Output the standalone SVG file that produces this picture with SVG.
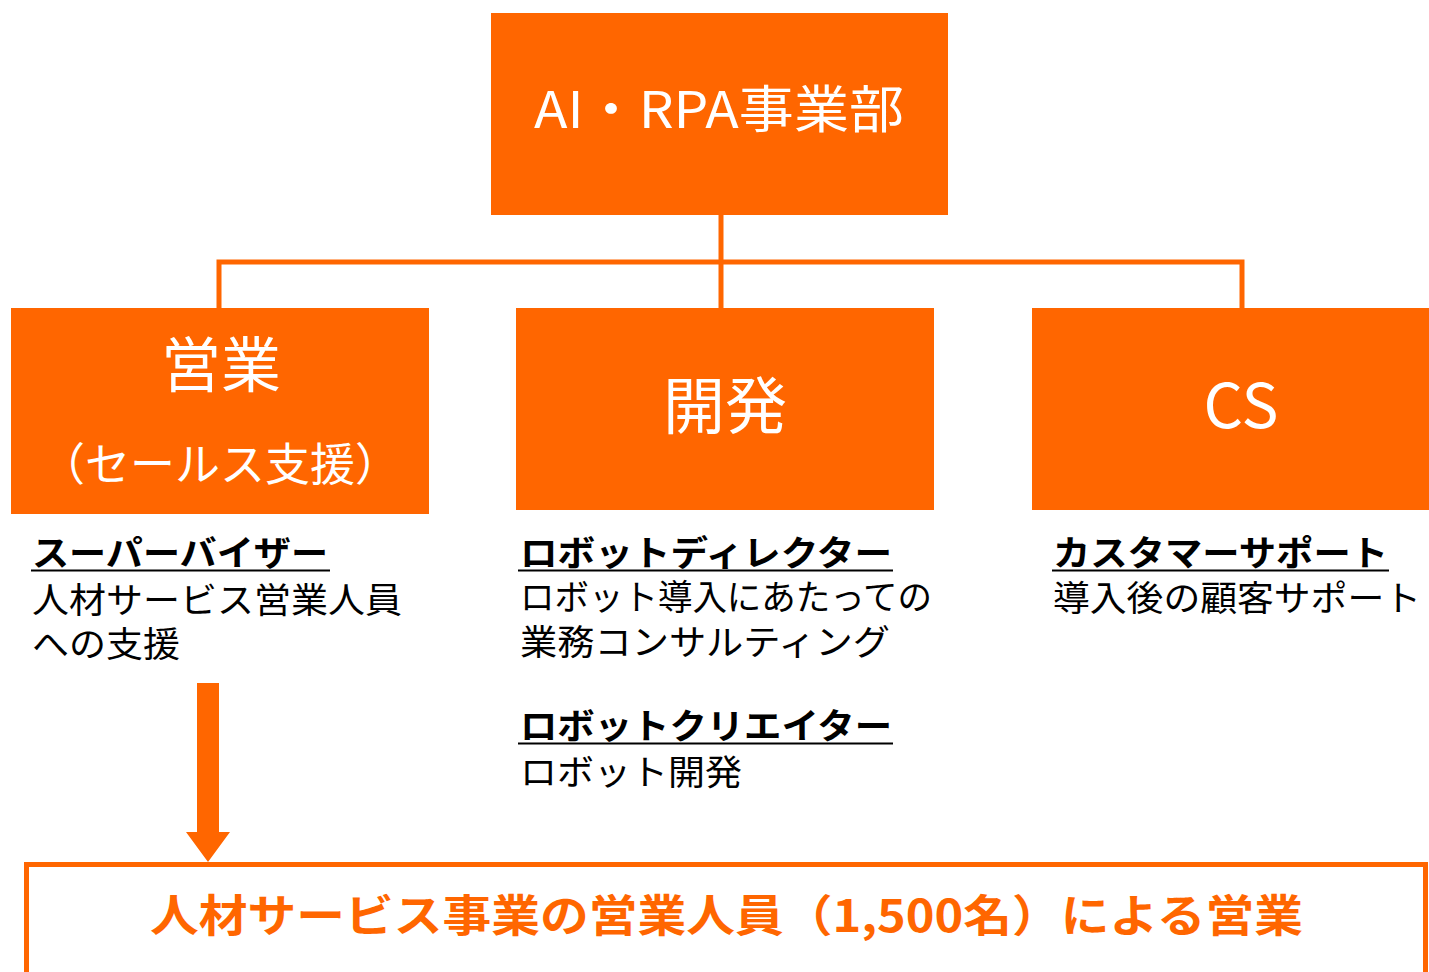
<svg xmlns="http://www.w3.org/2000/svg" width="1429" height="972" viewBox="0 0 1429 972">
<style>
.box{fill:#FF6600}
.w{fill:#fff;font-family:"Noto Sans CJK JP","Noto Sans",sans-serif}
.t{fill:#000;font-family:"Noto Sans CJK JP","Noto Sans",sans-serif;font-size:35px}
.b{font-weight:bold}
.ul{stroke:#000;stroke-width:2}
.con{stroke:#FF6600;stroke-width:5;fill:none}
</style>
<rect width="1429" height="972" fill="#fff"/>
<g id="connectors">
<line class="con" x1="721" y1="215" x2="721" y2="308"/>
<polyline class="con" points="219,308 219,262 1242,262 1242,308"/>
<polygon fill="#FF6600" points="197,683 219,683 219,832 230,832 208,862 186,832 197,832"/>
</g>
<g id="top">
<rect class="box" x="491" y="13" width="457" height="202"/>
<text class="w" x="719" y="128" font-size="51" text-anchor="middle" textLength="370" lengthAdjust="spacingAndGlyphs">AI・RPA事業部</text>
</g>
<g id="sales">
<rect class="box" x="11" y="308" width="418" height="206"/>
<text class="w" x="221" y="387" font-size="60" text-anchor="middle">営業</text>
<text class="w" x="220" y="481" font-size="45" text-anchor="middle" textLength="360" lengthAdjust="spacingAndGlyphs">（セールス支援）</text>
</g>
<g id="dev">
<rect class="box" x="516" y="308" width="418" height="202"/>
<text class="w" x="725" y="429" font-size="62" text-anchor="middle">開発</text>
</g>
<g id="cs">
<rect class="box" x="1032" y="308" width="397" height="202"/>
<text class="w" x="1241" y="428" font-size="62" text-anchor="middle">CS</text>
</g>
<g id="sales-desc">
<text class="t b" x="32" y="566" textLength="296" lengthAdjust="spacingAndGlyphs">スーパーバイザー</text>
<line class="ul" x1="31" y1="570.5" x2="330" y2="570.5"/>
<text class="t" x="32" y="613" textLength="370" lengthAdjust="spacingAndGlyphs">人材サービス営業人員</text>
<text class="t" x="32" y="657" textLength="148" lengthAdjust="spacingAndGlyphs">への支援</text>
</g>
<g id="dev-desc">
<text class="t b" x="520" y="566" textLength="372" lengthAdjust="spacingAndGlyphs">ロボットディレクター</text>
<line class="ul" x1="518" y1="570.5" x2="893" y2="570.5"/>
<text class="t" x="520" y="610" textLength="412" lengthAdjust="spacingAndGlyphs">ロボット導入にあたっての</text>
<text class="t" x="520" y="655" textLength="370" lengthAdjust="spacingAndGlyphs">業務コンサルティング</text>
<text class="t b" x="520" y="739" textLength="372" lengthAdjust="spacingAndGlyphs">ロボットクリエイター</text>
<line class="ul" x1="518" y1="743.5" x2="893" y2="743.5"/>
<text class="t" x="520" y="785" textLength="222" lengthAdjust="spacingAndGlyphs">ロボット開発</text>
</g>
<g id="cs-desc">
<text class="t b" x="1053" y="566" textLength="335" lengthAdjust="spacingAndGlyphs">カスタマーサポート</text>
<line class="ul" x1="1052" y1="570.5" x2="1389" y2="570.5"/>
<text class="t" x="1053" y="611" textLength="368" lengthAdjust="spacingAndGlyphs">導入後の顧客サポート</text>
</g>
<g id="bottom">
<rect x="26.5" y="864.5" width="1399" height="140" fill="none" stroke="#FF6600" stroke-width="5"/>
<text x="150" y="932" font-family="'Noto Sans CJK JP','Noto Sans',sans-serif" font-size="44" font-weight="bold" fill="#FF6600" textLength="1153" lengthAdjust="spacingAndGlyphs">人材サービス事業の営業人員（1,500名）による営業</text>
</g>
</svg>
